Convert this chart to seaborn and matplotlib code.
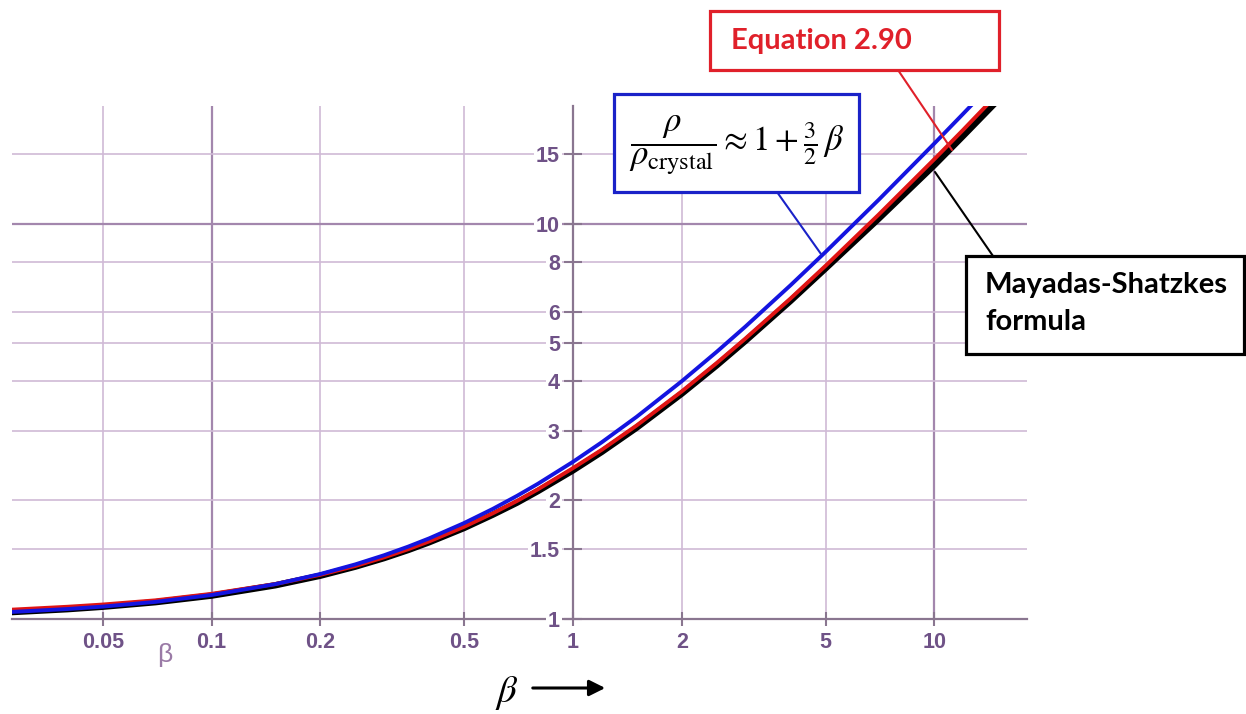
import matplotlib
matplotlib.use("Agg")
import numpy as np
import pandas as pd
import matplotlib.pyplot as plt
import seaborn as sns
from matplotlib.patches import Rectangle, FancyArrowPatch
from matplotlib.lines import Line2D
from matplotlib.ticker import FixedLocator, NullLocator

# Resistivity ratio rho/rho_crystal as a function of beta
beta = [0.028, 0.04, 0.05, 0.07, 0.1, 0.15, 0.2, 0.25, 0.3, 0.35, 0.4, 0.5, 0.6, 0.7, 0.8,
        1, 1.2, 1.5, 2, 2.5, 3, 4, 5, 7, 10, 12, 15]
rho_linear = [1.042, 1.06, 1.075, 1.105, 1.15, 1.225, 1.30, 1.375, 1.45, 1.525, 1.60, 1.75,
              1.90, 2.05, 2.20, 2.5, 2.8, 3.25, 4.0, 4.75, 5.5, 7.0, 8.5, 11.5, 16.0, 19.0, 23.5]
rho_eq290 = [1.056, 1.074, 1.088, 1.115, 1.158, 1.226, 1.294, 1.362, 1.432, 1.502, 1.572,
             1.712, 1.852, 1.99, 2.13, 2.41, 2.68, 3.09, 3.77, 4.45, 5.13, 6.48, 7.84, 10.55,
             14.6, 17.3, 21.4]
rho_ms = [1.041, 1.059, 1.074, 1.103, 1.146, 1.217, 1.287, 1.357, 1.426, 1.495, 1.564, 1.70,
          1.837, 1.97, 2.108, 2.378, 2.647, 3.05, 3.72, 4.389, 5.06, 6.39, 7.72, 10.3, 14.1,
          16.7, 20.6]

x_ticks = [0.05, 0.1, 0.2, 0.5, 1, 2, 5, 10]
x_tick_labels = ["0.05", "0.1", "0.2", "0.5", "1", "2", "5", "10"]
y_ticks = [1, 1.5, 2, 3, 4, 5, 6, 8, 10, 15]
y_tick_labels = ["1", "1.5", "2", "3", "4", "5", "6", "8", "10", "15"]
decade_x = [0.1, 10]
decade_y = [10]

curve_names = ["Mayadas-Shatzkes", "Equation 2.90", "linear"]

sns.set_theme(style="white")
plt.rcParams["font.family"] = ["Liberation Sans", "DejaVu Sans"]
plt.rcParams["mathtext.fontset"] = "stix"

W, H = 1246, 714
fig = plt.figure(figsize=(W / 100, H / 100), dpi=100)


def fx(x):
    return x / W


def fy(y):
    return 1 - y / H


ax = fig.add_axes([fx(12), fy(619), fx(1027) - fx(12), fy(106) - fy(619)])
ax.set_xscale("log")
ax.set_yscale("log")

df = pd.DataFrame({
    "beta": beta * 3,
    "ratio": rho_ms + rho_eq290 + rho_linear,
    "curve": [curve_names[0]] * len(beta) + [curve_names[1]] * len(beta)
             + [curve_names[2]] * len(beta),
})

sns.lineplot(data=df, x="beta", y="ratio", hue="curve", size="curve",
             hue_order=curve_names, size_order=curve_names,
             palette={"Mayadas-Shatzkes": "#000000", "Equation 2.90": "#e01414",
                      "linear": "#1414e0"},
             sizes={"Mayadas-Shatzkes": 4.6, "Equation 2.90": 2.8, "linear": 2.8},
             legend=False, ax=ax, zorder=3, estimator=None, sort=True)
for ln in ax.lines:
    ln.set_solid_capstyle("butt")
    ln.set_solid_joinstyle("round")

ax.set_xlim(0.02805, 18.03)
ax.set_ylim(1.0, 19.89)

axis_c = "#8a7690"
label_c = "#6f5287"
grid_c = "#d0bad6"
grid_dark = "#a387ad"

# grid
for v in x_ticks:
    if v == 1:
        continue
    ax.axvline(v, color=grid_dark if v in decade_x else grid_c,
               lw=1.6 if v in decade_x else 1.2, zorder=0.3)
for v in y_ticks:
    if v == 1:
        continue
    ax.axhline(v, color=grid_dark if v in decade_y else grid_c,
               lw=1.6 if v in decade_y else 1.2, zorder=0.3)

ax.xaxis.set_major_locator(FixedLocator(x_ticks))
ax.yaxis.set_major_locator(FixedLocator(y_ticks))
ax.xaxis.set_minor_locator(NullLocator())
ax.yaxis.set_minor_locator(NullLocator())
ax.set_xticklabels(x_tick_labels)
ax.set_yticklabels(y_tick_labels)
ax.set_xlabel("")
ax.set_ylabel("")

ax.spines["left"].set_position(("data", 1))
ax.spines["top"].set_visible(False)
ax.spines["right"].set_visible(False)
for s in ("left", "bottom"):
    ax.spines[s].set_color(axis_c)
    ax.spines[s].set_linewidth(1.6)

ax.tick_params(axis="x", bottom=True, direction="inout", length=10, width=1.5,
               color=axis_c, pad=4, labelsize=15.5, labelcolor=label_c)
ax.tick_params(axis="y", left=True, direction="inout", length=13, width=1.5,
               color=axis_c, pad=3, labelsize=15.5, labelcolor=label_c)
for lbl in ax.get_xticklabels():
    lbl.set_fontweight("bold")
for lbl in ax.get_yticklabels():
    lbl.set_fontweight("bold")
    lbl.set_bbox(dict(facecolor="white", edgecolor="none", pad=1.5))
ax.xaxis.set_zorder(2.6)
ax.yaxis.set_zorder(2.6)

# small beta symbol under the axis
fig.text(fx(165), fy(655), "β", fontsize=19, color="#9a7aa6", ha="center", va="center")

# axis caption with arrow
fig.text(fx(507), fy(693), r"$\beta$", fontsize=28, color="black", ha="center", va="center")
fig.add_artist(FancyArrowPatch((fx(530), fy(688)), (fx(608), fy(688)),
                               transform=fig.transFigure, arrowstyle="-|>",
                               mutation_scale=24, lw=2.2, color="black"))


def box(x0, y0, x1, y1, ec):
    fig.add_artist(Rectangle((fx(x0), fy(y1)), fx(x1) - fx(x0), fy(y0) - fy(y1),
                             transform=fig.transFigure, facecolor="white",
                             edgecolor=ec, lw=2.3, zorder=5))


def leader(x0, y0, x1, y1, c):
    fig.add_artist(Line2D([fx(x0), fx(x1)], [fy(y0), fy(y1)],
                          transform=fig.transFigure, color=c, lw=1.5, zorder=4))


# leader lines
leader(898, 70, 952, 150, "#e0202a")
leader(777, 192, 821, 254, "#1a22c8")
leader(993, 256, 935, 172, "#000000")

# equation 2.90 box
box(710, 11, 999, 70, "#e0202a")
fig.text(fx(731), fy(41), "Equation 2.90", fontsize=21, fontweight="bold",
         family=["Lato", "DejaVu Sans"], color="#e0202a", ha="left", va="center", zorder=6)

# linear approximation box
box(614, 94, 859, 192, "#1a22c8")
fig.text(fx(737), fy(145),
         r"$\dfrac{\rho}{\rho_{\mathrm{crystal}}}\approx 1+\frac{3}{2}\,\beta$",
         fontsize=25, color="black", ha="center", va="center", zorder=6)

# Mayadas-Shatzkes box
box(966, 256, 1244, 354, "#000000")
fig.text(fx(985), fy(285), "Mayadas-Shatzkes", fontsize=21, fontweight="bold",
         family=["Lato", "DejaVu Sans"], color="black", ha="left", va="center", zorder=6)
fig.text(fx(985), fy(322), "formula", fontsize=21, fontweight="bold",
         family=["Lato", "DejaVu Sans"], color="black", ha="left", va="center", zorder=6)

fig.savefig("out.png", dpi=100)
